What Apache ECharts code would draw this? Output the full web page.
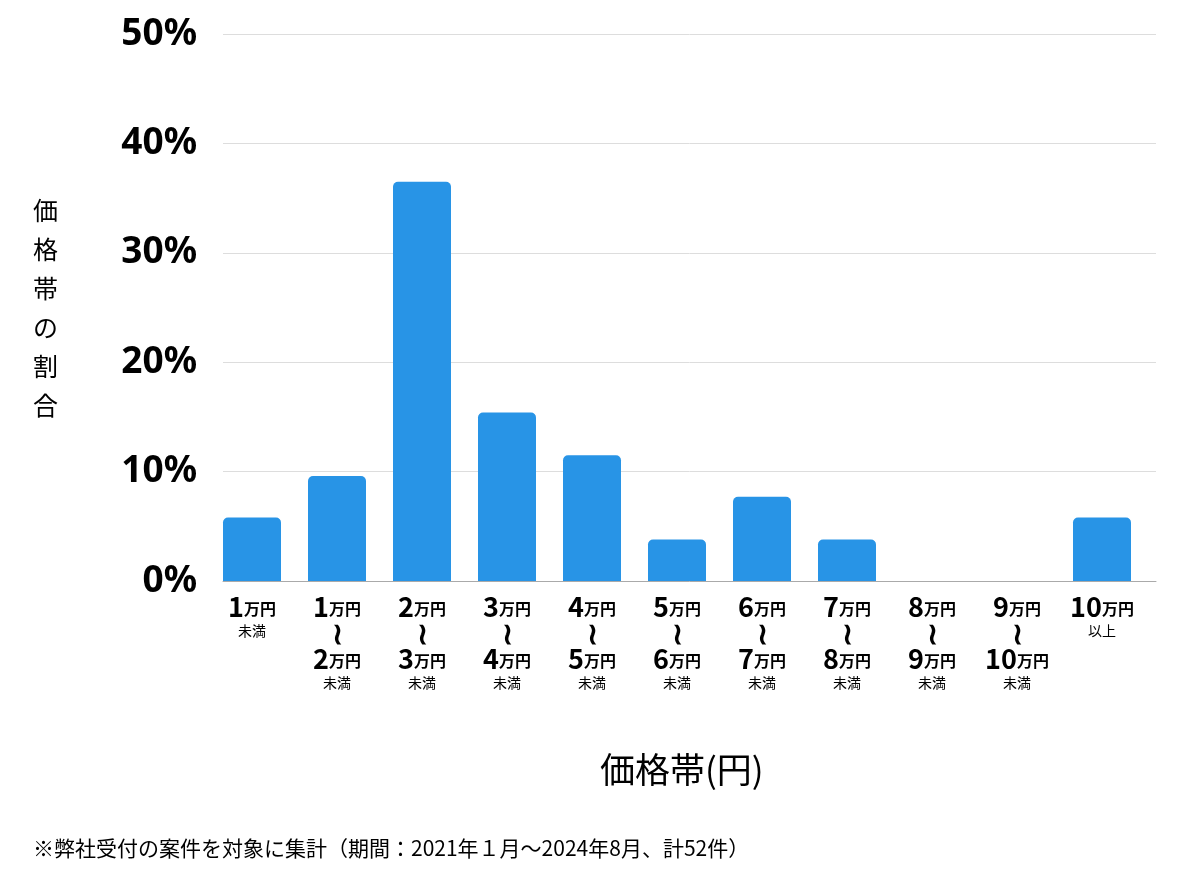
<!DOCTYPE html>
<html><head><meta charset="utf-8">
<script src="https://cdn.jsdelivr.net/npm/echarts@6/dist/echarts.min.js"></script>
<style>html,body{margin:0;padding:0;background:#fff}#c{width:1200px;height:874px}</style>
</head><body><div id="c"></div>
<script>
const categories = ['1万円未満','1万円～2万円未満','2万円～3万円未満','3万円～4万円未満','4万円～5万円未満','5万円～6万円未満','6万円～7万円未満','7万円～8万円未満','8万円～9万円未満','9万円～10万円未満','10万円以上'];
const shares = [5.8, 9.6, 36.5, 15.4, 11.5, 3.8, 7.7, 3.8, 0, 0, 5.8];
const yTicks = [0, 10, 20, 30, 40, 50];
const yTitle = '価格帯の割合';
const xTitle = '価格帯(円)';
const note = '※弊社受付の案件を対象に集計（期間：2021年１月～2024年8月、計52件）';

const FONT = '"Noto Sans CJK JP", "Noto Sans", sans-serif';
function fmt(v){
  const m = v.match(/^(\d+)万円(?:～(\d+)万円)?(未満|以上)$/);
  if(!m) return v;
  let s = '{n|' + m[1] + '}{u|万円}';
  if (m[2]) s += '\n{w|≀}\n{n|' + m[2] + '}{u|万円}';
  s += '\n{s|' + m[3] + '}';
  return s;
}
const chart = echarts.init(document.getElementById('c'));
chart.setOption({
  animation:false,
  textStyle:{fontFamily:FONT},
  grid:[
    {left:223, right:44, top:34, bottom:293},
    {left:209.5, width:935, top:34, bottom:293}
  ],
  xAxis:[
    {gridIndex:0, type:'value', min:0, max:1, axisLabel:{show:false}, axisTick:{show:false}, splitLine:{show:false},
     axisLine:{show:true, lineStyle:{color:'#aaaaaa', width:1}}},
    {gridIndex:1, type:'category', data:categories, axisLine:{show:false}, axisTick:{show:false},
     axisLabel:{interval:0, margin:13, formatter:fmt, color:'#000', verticalAlign:'top',
       rich:{
         n:{fontSize:27, fontWeight:'bold', lineHeight:26, fontFamily:FONT, color:'#000'},
         u:{fontSize:16, fontWeight:'bold', lineHeight:26, fontFamily:FONT, color:'#000', padding:[4,0,0,0]},
         w:{fontSize:30, fontWeight:'bold', lineHeight:26, fontFamily:FONT, color:'#000'},
         s:{fontSize:14, lineHeight:21, fontFamily:FONT, color:'#000'}
       }}}
  ],
  yAxis:[
    {gridIndex:0, type:'value', min:0, max:50, interval:10,
     axisLabel:{formatter:v=>v+'%', fontSize:37, fontWeight:'bold', color:'#000', margin:26, fontFamily:'"Noto Sans", "Noto Sans CJK JP", sans-serif'},
     axisLine:{show:false}, axisTick:{show:false},
     splitLine:{lineStyle:{color:'#dddddd', width:1}},
     name: yTitle.split('').join('\n'), nameLocation:'middle', nameRotate:0, nameGap:165,
     nameTextStyle:{fontSize:25, lineHeight:39, color:'#000', fontFamily:FONT, padding:[26,0,0,0]}},
    {gridIndex:1, type:'value', min:0, max:50, interval:10, show:false}
  ],
  series:[{
    type:'bar', xAxisIndex:1, yAxisIndex:1, data:shares, barWidth:58,
    itemStyle:{color:'#2894e6', borderRadius:[5,5,0,0]}
  }],
  graphic:[
    {type:'text', left:600, top:752, style:{text:xTitle, fontSize:35, fill:'#000', fontFamily:FONT}},
    {type:'text', left:33, top:838, style:{text:note, fontSize:21, fill:'#000', fontFamily:FONT}}
  ]
});
</script></body></html>
